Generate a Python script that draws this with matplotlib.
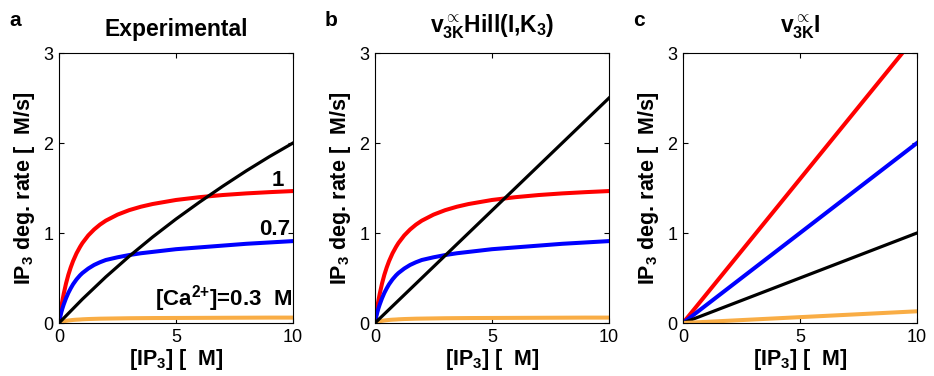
import matplotlib
matplotlib.use("Agg")
import matplotlib.pyplot as plt

plt.rcParams['font.family'] = ['Liberation Sans', 'DejaVu Sans']
plt.rcParams['mathtext.fontset'] = 'custom'
plt.rcParams['mathtext.rm'] = 'Liberation Sans:bold'
plt.rcParams['mathtext.it'] = 'Liberation Sans:bold'
plt.rcParams['mathtext.bf'] = 'Liberation Sans:bold'
plt.rcParams['mathtext.sf'] = 'Liberation Sans:bold'

# IP3 concentration (uM), dense near zero where the curves bend
ip3 = [0, 0.05, 0.1, 0.15, 0.2, 0.3, 0.4, 0.5, 0.6, 0.75, 0.9, 1, 1.25, 1.5, 1.75,
       2, 2.5, 3, 3.5, 4, 5, 6, 7, 8, 9, 10]

# degradation rates (uM/s) at [Ca2+] = 1, 0.7 and 0.3 uM, shared by panels a and b
ca_1_0 = [0, 0.095, 0.18, 0.255, 0.322, 0.439, 0.536, 0.617, 0.687, 0.775, 0.846, 0.888, 0.973, 1.039, 1.093,
          1.137, 1.204, 1.254, 1.292, 1.322, 1.367, 1.398, 1.422, 1.44, 1.454, 1.466]
ca_0_7 = [0, 0.065, 0.12, 0.165, 0.205, 0.275, 0.335, 0.385, 0.43, 0.485, 0.53, 0.555, 0.605, 0.645, 0.675,
          0.70, 0.73, 0.755, 0.775, 0.79, 0.82, 0.84, 0.86, 0.88, 0.895, 0.91]
ca_0_3 = [0, 0.006, 0.011, 0.015, 0.018, 0.024, 0.028, 0.031, 0.034, 0.037, 0.039, 0.041, 0.044, 0.046, 0.048,
          0.049, 0.051, 0.053, 0.054, 0.055, 0.056, 0.057, 0.058, 0.059, 0.06, 0.06]

# 3-kinase contribution in panel a (slightly concave)
ip3_k = [0, 1, 2, 3, 4, 5, 6, 7, 8, 9, 10]
black_exp = [0, 0.265, 0.512, 0.741, 0.955, 1.155, 1.342, 1.52, 1.69, 1.85, 2.0]

# panel b: linear 3-kinase term
ip3_lin = [0, 10]
black_hill = [0, 2.5]

# panel c: all rates linear in IP3
red_lin = [0, 3.2]
blue_lin = [0, 2.0]
black_lin = [0, 1.0]
orange_lin = [0, 0.13]

RED = '#ff0000'
BLUE = '#0000ff'
ORANGE = '#f9ad45'
BLACK = '#000000'

titles = ['Experimental', r'$v_{3K}^{\propto}Hill(I{,}K_3)$', r'$v_{3K}^{\propto}I$']
letters = ['a', 'b', 'c']
lefts = [59, 375, 683]

fig = plt.figure(figsize=(9.34, 3.76), dpi=100)
W, H = 934.0, 376.0

axes = []
for i in range(3):
    ax = fig.add_axes([lefts[i] / W, 1 - 323 / H, 234 / W, 270 / H])
    axes.append(ax)

lw_c, lw_k = 2.9, 2.3

ax = axes[0]
ax.plot(ip3, ca_1_0, color=RED, lw=lw_c)
ax.plot(ip3, ca_0_7, color=BLUE, lw=lw_c)
ax.plot(ip3, ca_0_3, color=ORANGE, lw=lw_c)
ax.plot(ip3_k, black_exp, color=BLACK, lw=lw_k)
ax.text(9.6, 1.58, '1', ha='right', va='center', fontsize=16, fontweight='bold')
ax.text(9.88, 1.04, '0.7', ha='right', va='center', fontsize=16, fontweight='bold')
ax.text(9.97, 0.27, r'[Ca$^{2{+}}$]=0.3  M', ha='right', va='center', fontsize=16, fontweight='bold')

ax = axes[1]
ax.plot(ip3, ca_1_0, color=RED, lw=lw_c)
ax.plot(ip3, ca_0_7, color=BLUE, lw=lw_c)
ax.plot(ip3, ca_0_3, color=ORANGE, lw=lw_c)
ax.plot(ip3_lin, black_hill, color=BLACK, lw=lw_k)

ax = axes[2]
ax.plot(ip3_lin, red_lin, color=RED, lw=lw_c)
ax.plot(ip3_lin, blue_lin, color=BLUE, lw=lw_c)
ax.plot(ip3_lin, black_lin, color=BLACK, lw=lw_k)
ax.plot(ip3_lin, orange_lin, color=ORANGE, lw=lw_c)

for i, ax in enumerate(axes):
    ax.set_xlim(0, 10)
    ax.set_ylim(0, 3)
    ax.set_xticks([0, 5, 10])
    ax.set_yticks([0, 1, 2, 3])
    ax.tick_params(direction='in', length=3.5, width=0.8, labelsize=13,
                   top=True, right=True, pad=4)
    ax.tick_params(axis='x', pad=4)
    for s in ax.spines.values():
        s.set_linewidth(0.8)
    ax.set_ylabel(r'IP$_3$ deg. rate [  M/s]', fontsize=15.5, fontweight='bold')
    ax.set_xlabel(r'[IP$_3$] [  M]', fontsize=15.5, fontweight='bold')
    ax.yaxis.set_label_coords(-0.095, 0.5)
    ax.xaxis.set_label_coords(0.5, -0.09)
    ax.text(0.5, 1.045, titles[i], transform=ax.transAxes, ha='center', va='bottom',
            fontsize=16.5, fontweight='bold')
    fig.text((lefts[i] - 50) / W, 1 - 21 / H, letters[i], ha='left', va='center',
             fontsize=15, fontweight='bold')

fig.savefig('out.png', dpi=100)
